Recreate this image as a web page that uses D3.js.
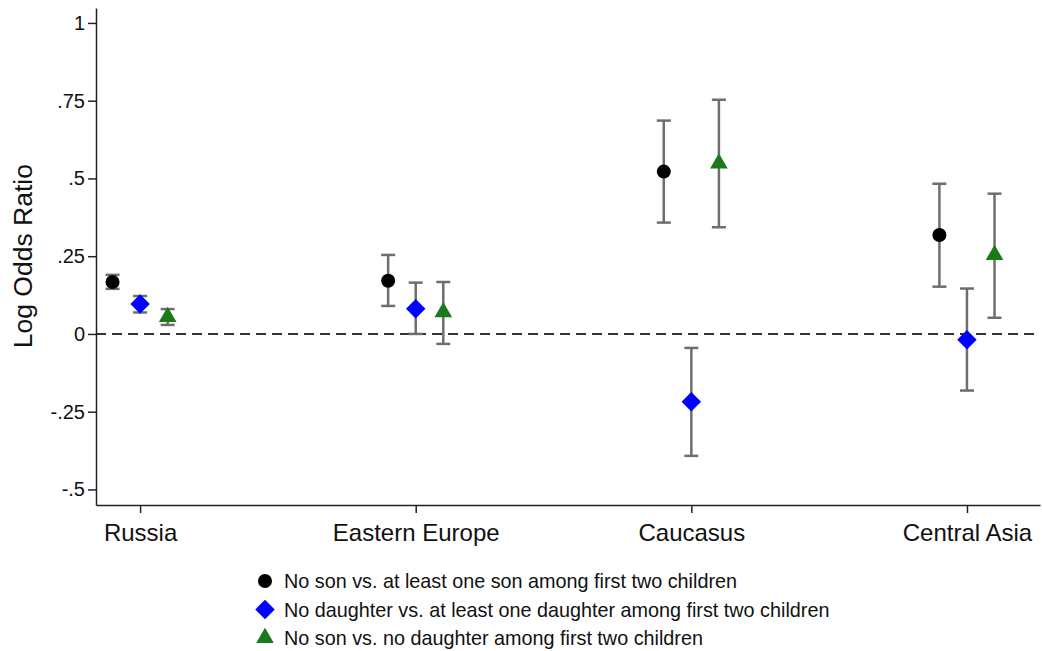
<!DOCTYPE html>
<html>
<head>
<meta charset="utf-8">
<script src="https://cdnjs.cloudflare.com/ajax/libs/d3/7.8.5/d3.min.js"></script>
<style>
  body { margin: 0; background: #fff; }
  text { font-family: "Liberation Sans", Arial, sans-serif; }
</style>
</head>
<body>
<div id="chart"></div>
<script>
var regions = ["Russia", "Eastern Europe", "Caucasus", "Central Asia"];
var seriesNames = [
  "No son vs. at least one son among first two children",
  "No daughter vs. at least one daughter among first two children",
  "No son vs. no daughter among first two children"
];
// point estimates per series, one value per region
var noSon      = [0.167, 0.171, 0.522, 0.318];
var noDaughter = [0.096, 0.081, -0.218, -0.019];
var sonVsDau   = [0.055, 0.070, 0.548, 0.254];
// confidence interval bounds
var noSonLo      = [0.145, 0.090, 0.358, 0.152];
var noSonHi      = [0.190, 0.254, 0.686, 0.483];
var noDaughterLo = [0.069, 0.000, -0.392, -0.182];
var noDaughterHi = [0.122, 0.165, -0.045, 0.146];
var sonVsDauLo   = [0.029, -0.032, 0.343, 0.052];
var sonVsDauHi   = [0.080, 0.167, 0.753, 0.451];
var yTicks = [-0.5, -0.25, 0, 0.25, 0.5, 0.75, 1];
var yTickLabels = ["-.5", "-.25", "0", ".25", ".5", ".75", "1"];

(function () {
    var width = 1042,
        height = 651;

    var svg = d3.select("#chart")
        .append("svg")
        .attr("width", width)
        .attr("height", height);

    var x = d3.scaleLinear().domain([0.84, 4.265]).range([96, 1040]);
    var y = d3.scaleLinear().domain([-0.55, 1.048]).range([505, 8]);

    // diamond is a square turned 45 degrees
    var series = [
        {name: seriesNames[0], vals: noSon, lo: noSonLo, hi: noSonHi, shape: d3.symbolCircle, size: 155, rot: 0, color: "#000000", off: -0.1},
        {name: seriesNames[1], vals: noDaughter, lo: noDaughterLo, hi: noDaughterHi, shape: d3.symbolSquare, size: 190, rot: 45, color: "#0000ff", off: 0},
        {name: seriesNames[2], vals: sonVsDau, lo: sonVsDauLo, hi: sonVsDauHi, shape: d3.symbolTriangle, size: 135, rot: 0, color: "#1a7a1a", off: 0.1}
    ];

    // zero line
    svg.append("line")
        .attr("x1", x(0.84)).attr("x2", x(4.265))
        .attr("y1", y(0)).attr("y2", y(0))
        .attr("stroke", "#333")
        .attr("stroke-width", 2)
        .attr("stroke-dasharray", "10,6");

    // y axis
    var yAxis = d3.axisLeft(y)
        .tickValues(yTicks)
        .tickFormat(function (d, i) { return yTickLabels[i]; })
        .tickSize(8)
        .tickSizeOuter(0)
        .tickPadding(3);
    var gy = svg.append("g")
        .attr("transform", "translate(96,0)")
        .call(yAxis);
    gy.select(".domain").attr("stroke", "#222").attr("stroke-width", 1.5);
    gy.selectAll(".tick line").attr("stroke", "#222").attr("stroke-width", 1.5);
    gy.selectAll(".tick text")
        .attr("font-size", 20)
        .attr("fill", "#111")
        .style("font-family", "Liberation Sans, Arial, sans-serif");

    // x axis
    var xAxis = d3.axisBottom(x)
        .tickValues([1, 2, 3, 4])
        .tickFormat(function (d) { return regions[d - 1]; })
        .tickSize(8)
        .tickSizeOuter(0)
        .tickPadding(11);
    var gx = svg.append("g")
        .attr("transform", "translate(0,505)")
        .call(xAxis);
    gx.select(".domain").attr("stroke", "#222").attr("stroke-width", 1.5);
    gx.selectAll(".tick line").attr("stroke", "#222").attr("stroke-width", 1.5);
    gx.selectAll(".tick text")
        .attr("font-size", 24)
        .attr("fill", "#111")
        .style("font-family", "Liberation Sans, Arial, sans-serif");

    // y title
    svg.append("text")
        .attr("transform", "translate(32," + y(0.25) + ") rotate(-90)")
        .attr("text-anchor", "middle")
        .attr("font-size", 26.5)
        .attr("fill", "#111")
        .text("Log Odds Ratio");

    // error bars + markers
    series.forEach(function (s) {
        var g = svg.append("g");
        var rows = s.vals.map(function (v, i) {
            return {x: i + 1 + s.off, v: v, lo: s.lo[i], hi: s.hi[i]};
        });
        g.selectAll(".bar").data(rows).enter().append("line")
            .attr("x1", function (d) { return x(d.x); })
            .attr("x2", function (d) { return x(d.x); })
            .attr("y1", function (d) { return y(d.lo); })
            .attr("y2", function (d) { return y(d.hi); })
            .attr("stroke", "#6e6e6e").attr("stroke-width", 2.5);
        ["lo", "hi"].forEach(function (k) {
            g.selectAll(".cap-" + k).data(rows).enter().append("line")
                .attr("x1", function (d) { return x(d.x) - 7; })
                .attr("x2", function (d) { return x(d.x) + 7; })
                .attr("y1", function (d) { return y(d[k]); })
                .attr("y2", function (d) { return y(d[k]); })
                .attr("stroke", "#6e6e6e").attr("stroke-width", 2.5);
        });
        g.selectAll(".pt").data(rows).enter().append("path")
            .attr("d", d3.symbol().type(s.shape).size(s.size))
            .attr("transform", function (d) { return "translate(" + x(d.x) + "," + y(d.v) + ") rotate(" + s.rot + ")"; })
            .attr("fill", s.color);
    });

    // legend
    var leg = svg.append("g");
    series.forEach(function (s, i) {
        var ly = 581 + i * 28.5;
        leg.append("path")
            .attr("d", d3.symbol().type(s.shape).size(s.size))
            .attr("transform", "translate(265," + ly + ") rotate(" + s.rot + ")")
            .attr("fill", s.color);
        leg.append("text")
            .attr("x", 284).attr("y", ly + 7)
            .attr("font-size", 19.8)
            .attr("fill", "#111")
            .text(s.name);
    });
})();
</script>
</body>
</html>
